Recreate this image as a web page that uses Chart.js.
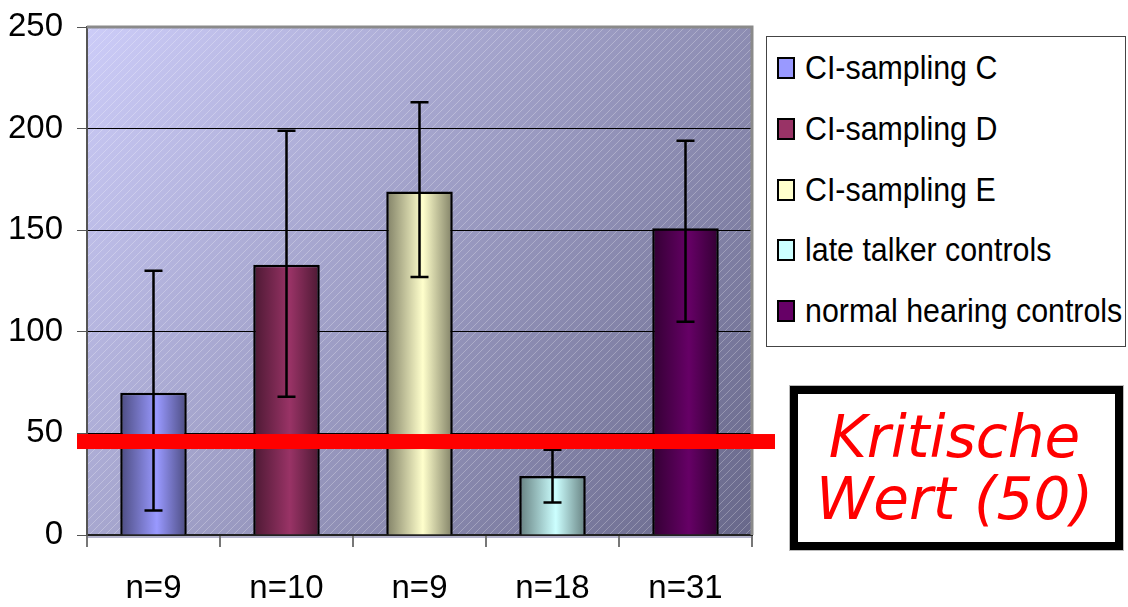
<!DOCTYPE html>
<html>
<head>
<meta charset="utf-8">
<script src="https://cdn.jsdelivr.net/npm/chart.js@4.4.0/dist/chart.umd.min.js"></script>
<style>
  body { margin: 0; background: #fff; }
  #wrap { position: relative; width: 1128px; height: 607px; overflow: hidden; }
  #legend {
    position: absolute; left: 766px; top: 36px; width: 360px; height: 311px;
    border: 1px solid #444; background: #fff; box-sizing: border-box;
    font-family: "Liberation Sans", Arial, sans-serif;
  }
  .row { position: absolute; left: 0; height: 40px; width: 100%; }
  .swatch { position: absolute; left: 10px; top: 9px; width: 14px; height: 18px; border: 2px solid #000; }
  .label {
    position: absolute; left: 38px; top: 0; line-height: 40px; font-size: 33px;
    white-space: nowrap; transform: scaleX(0.92); transform-origin: left center; color: #000;
  }
  #critical {
    position: absolute; left: 790px; top: 386px; width: 333px; height: 164px;
    border: 8px solid #000; box-sizing: border-box; background: #fff;
    outline: 1px solid #bbb;
    display: flex; align-items: center; justify-content: center; text-align: center;
    color: #ff0000; font-family: "DejaVu Sans", Verdana, sans-serif; font-style: italic;
    font-size: 58px; line-height: 62px; padding-right: 4px;
  }
</style>
</head>
<body>
<div id="wrap">
  <canvas id="chart" width="1128" height="607"></canvas>
  <div id="legend"></div>
  <div id="critical">Kritische<br>Wert (50)</div>
</div>
<script>
const categories = ["n=9", "n=10", "n=9", "n=18", "n=31"]
const groups = ["CI-sampling C", "CI-sampling D", "CI-sampling E", "late talker controls", "normal hearing controls"]
const means = [70, 133, 169, 29, 151]
const errLow = [12, 68, 127, 16, 105]
const errHigh = [130, 199, 213, 42, 194]
const yTicks = [0, 50, 100, 150, 200, 250]
const criticalLine = 46

// bar colours: base (legend) and darker edge for the cylinder shading
const baseColors = ["#9999ff", "#993366", "#ffffcc", "#ccffff", "#660066"]
const edgeColors = ["#4c4c80", "#4c1933", "#808066", "#668080", "#330033"]

// legend
const legendEl = document.getElementById("legend")
groups.forEach((g, i) => {
  const row = document.createElement("div")
  row.className = "row"
  row.style.top = (11 + i * 60.75) + "px"
  row.innerHTML = '<div class="swatch" style="background:' + baseColors[i] + '"></div><div class="label">' + g + "</div>"
  legendEl.appendChild(row)
})

// hatch pattern for the plot background
const hatch = document.createElement("canvas")
hatch.width = 8
hatch.height = 8
const hctx = hatch.getContext("2d")
hctx.strokeStyle = "rgba(255,255,255,0.25)"
hctx.lineWidth = 1
hctx.beginPath()
hctx.moveTo(0, 8); hctx.lineTo(8, 0)
hctx.moveTo(-1, 1); hctx.lineTo(1, -1)
hctx.moveTo(7, 9); hctx.lineTo(9, 7)
hctx.stroke()

const plotBackground = {
  id: "plotBackground",
  beforeDraw(chart) {
    const { ctx, chartArea: a } = chart
    ctx.save()
    const g = ctx.createLinearGradient(a.left, a.top, a.right, a.bottom)
    g.addColorStop(0, "#ccccf8")
    g.addColorStop(1, "#68688a")
    ctx.fillStyle = g
    ctx.fillRect(a.left, a.top, a.right - a.left, a.bottom - a.top)
    ctx.fillStyle = ctx.createPattern(hatch, "repeat")
    ctx.fillRect(a.left, a.top, a.right - a.left, a.bottom - a.top)
    // thin floor strip under the axis
    ctx.fillStyle = "#b4b4cc"
    ctx.fillRect(a.left, a.bottom, a.right - a.left, 3)
    ctx.restore()
  },
}

const plotFrame = {
  id: "plotFrame",
  beforeDatasetsDraw(chart) {
    const { ctx, chartArea: a } = chart
    ctx.save()
    ctx.strokeStyle = "#8a8a8a"
    ctx.lineWidth = 3
    ctx.beginPath()
    ctx.moveTo(a.left, a.top)
    ctx.lineTo(a.right, a.top)
    ctx.lineTo(a.right, a.bottom)
    ctx.stroke()
    ctx.restore()
  },
}

const errorBars = {
  id: "errorBars",
  afterDatasetsDraw(chart) {
    const { ctx } = chart
    const y = chart.scales.y
    const meta = chart.getDatasetMeta(0)
    ctx.save()
    ctx.strokeStyle = "#000"
    ctx.lineWidth = 2.5
    meta.data.forEach((bar, i) => {
      const x = bar.x
      const hi = y.getPixelForValue(errHigh[i])
      const lo = y.getPixelForValue(errLow[i])
      ctx.beginPath()
      ctx.moveTo(x, hi); ctx.lineTo(x, lo)
      ctx.moveTo(x - 9, hi); ctx.lineTo(x + 9, hi)
      ctx.moveTo(x - 9, lo); ctx.lineTo(x + 9, lo)
      ctx.stroke()
    })
    ctx.restore()
  },
}

const criticalLinePlugin = {
  id: "criticalLine",
  afterDraw(chart) {
    const { ctx, chartArea: a } = chart
    const yp = chart.scales.y.getPixelForValue(criticalLine)
    ctx.save()
    ctx.fillStyle = "#ff0000"
    ctx.fillRect(a.left - 10, yp - 7.5, a.right - a.left + 33, 15)
    ctx.restore()
  },
}

function barFill(context) {
  const chart = context.chart
  const i = context.dataIndex
  const x = chart.scales.x
  if (!chart.chartArea || !x) return baseColors[i]
  const cx = x.getPixelForValue(i)
  const half = (x.width / categories.length) * 0.25
  const g = chart.ctx.createLinearGradient(cx - half, 0, cx + half, 0)
  g.addColorStop(0, edgeColors[i])
  g.addColorStop(0.55, baseColors[i])
  g.addColorStop(1, edgeColors[i])
  return g
}

const tickFont = { family: "'Liberation Sans', Arial, sans-serif", size: 33 }

new Chart(document.getElementById("chart"), {
  type: "bar",
  data: {
    labels: categories,
    datasets: [
      {
        data: means,
        backgroundColor: barFill,
        borderColor: "#000",
        borderWidth: 2.5,
        barPercentage: 0.5,
        categoryPercentage: 1,
      },
    ],
  },
  options: {
    responsive: false,
    animation: false,
    layout: { padding: { top: 27, right: 376, bottom: 0, left: 0 } },
    plugins: {
      legend: { display: false },
      tooltip: { enabled: false },
    },
    scales: {
      x: {
        grid: { drawOnChartArea: false, drawTicks: true, tickLength: 12, color: "#777", lineWidth: 2 },
        border: { display: true, color: "#222", width: 2 },
        ticks: { font: tickFont, color: "#000", padding: 22 },
        afterFit: (s) => { s.height = 72 },
      },
      y: {
        min: 0,
        max: 250,
        afterBuildTicks: (s) => { s.ticks = yTicks.map((v) => ({ value: v })) },
        grid: { color: "#000", lineWidth: 1, tickLength: 10, tickColor: "#555" },
        border: { display: true, color: "#555", width: 2 },
        ticks: { font: tickFont, color: "#000", padding: 14 },
        afterFit: (s) => {
          s.width = 87
          s.paddingTop = 0
          s.paddingBottom = 0
        },
      },
    },
  },
  plugins: [plotBackground, plotFrame, errorBars, criticalLinePlugin],
})
</script>
</body>
</html>
